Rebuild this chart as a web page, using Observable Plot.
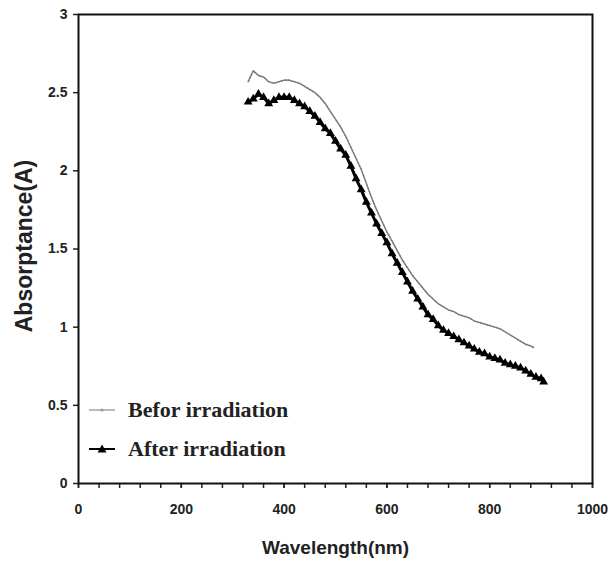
<!DOCTYPE html>
<html>
<head>
<meta charset="utf-8">
<script src="https://cdn.jsdelivr.net/npm/d3@7"></script>
<script src="https://cdn.jsdelivr.net/npm/@observablehq/plot@0.6"></script>
<style>
  html, body { margin: 0; padding: 0; background: #fff; }
  #wrap { position: relative; width: 610px; height: 572px; }
  #legend { position: absolute; left: 88px; top: 390px; font-family: "Liberation Serif", "Times New Roman", serif; font-weight: bold; font-size: 22px; color: #222; }
  #legend .row { display: flex; align-items: center; height: 39px; }
  #legend svg { margin-right: 12px; }
</style>
</head>
<body>
<div id="wrap"></div>
<script>
// Data
const seriesNames = ["Befor irradiation", "After irradiation"];

const beforeWavelength = [330,340,350,360,370,380,390,400,410,420,430,440,450,460,470,480,490,500,510,520,530,540,550,560,570,580,590,600,610,620,630,640,650,660,670,680,690,700,710,720,730,740,750,760,770,780,790,800,810,820,830,840,850,860,870,880,885];
const beforeAbs = [2.57,2.64,2.61,2.60,2.57,2.56,2.57,2.58,2.58,2.57,2.56,2.54,2.52,2.50,2.47,2.43,2.38,2.33,2.28,2.22,2.15,2.08,2.01,1.92,1.83,1.75,1.68,1.61,1.55,1.49,1.43,1.38,1.33,1.29,1.25,1.21,1.18,1.15,1.13,1.11,1.10,1.08,1.07,1.06,1.04,1.03,1.02,1.01,1.00,0.99,0.97,0.95,0.93,0.91,0.89,0.88,0.87];

const afterWavelength = [330,340,350,360,370,380,390,400,410,420,430,440,450,460,470,480,490,500,510,520,530,540,550,560,570,580,590,600,610,620,630,640,650,660,670,680,690,700,710,720,730,740,750,760,770,780,790,800,810,820,830,840,850,860,870,880,890,900,905];
const afterAbs = [2.44,2.46,2.49,2.47,2.43,2.45,2.47,2.47,2.47,2.45,2.43,2.41,2.38,2.35,2.31,2.27,2.24,2.19,2.14,2.10,2.03,1.95,1.88,1.80,1.73,1.66,1.60,1.54,1.47,1.41,1.35,1.29,1.23,1.18,1.13,1.08,1.05,1.01,0.98,0.96,0.94,0.92,0.90,0.88,0.86,0.84,0.83,0.81,0.80,0.79,0.77,0.76,0.75,0.74,0.72,0.70,0.68,0.67,0.65];

const xTicks = [0,200,400,600,800,1000];
const xTickLabels = ["0","200","400","600","800","1000"];
const xMinorTicks = d3.range(0, 1001, 40);
const yTicks = [0,0.5,1,1.5,2,2.5,3];
const yTickLabels = ["0","0.5","1","1.5","2","2.5","3"];
const xTitle = "Wavelength(nm)";
const yTitle = "Absorptance(A)";

const before = beforeWavelength.map((w, i) => ({w, a: beforeAbs[i]}));
const after = afterWavelength.map((w, i) => ({w, a: afterAbs[i]}));

const sans = "Liberation Sans, Arial, sans-serif";
const tickFont = {fontSize: 14, fontWeight: "bold", fontFamily: sans};

const chart = Plot.plot({
  width: 610,
  height: 572,
  marginLeft: 78,
  marginRight: 18,
  marginTop: 14,
  marginBottom: 89,
  style: {background: "#fff", color: "#222", fontFamily: sans},
  x: {domain: [0, 1000]},
  y: {domain: [0, 3]},
  marks: [
    Plot.axisX({ticks: xMinorTicks, tickSize: 5, text: null, label: null, stroke: "#222", strokeWidth: 1.5}),
    Plot.axisX({ticks: xTicks, tickSize: 5, tickPadding: 16, tickFormat: (d) => xTickLabels[xTicks.indexOf(d)], label: null, stroke: "#222", strokeWidth: 1.5, ...tickFont}),
    Plot.axisY({ticks: yTicks, tickSize: 5, tickPadding: 6, tickFormat: (d) => yTickLabels[yTicks.indexOf(d)], label: null, stroke: "#222", strokeWidth: 1.5, ...tickFont}),
    Plot.frame({stroke: "#111", strokeWidth: 2}),
    Plot.line(before, {x: "w", y: "a", stroke: "#777", strokeWidth: 1.6, strokeDasharray: "2,1.4"}),
    Plot.line(after, {x: "w", y: "a", stroke: "#000", strokeWidth: 3}),
    Plot.dot(after, {x: "w", y: "a", symbol: "triangle", r: 3.3, fill: "#000", stroke: "none"}),
    Plot.text([yTitle], {frameAnchor: "left", text: (d) => d, rotate: -90, dx: -54, dy: -3, textAnchor: "middle", lineAnchor: "middle", fontSize: 23, fontWeight: "bold", fill: "#222", fontFamily: sans}),
    Plot.text([xTitle], {frameAnchor: "bottom", text: (d) => d, dy: 64, textAnchor: "middle", lineAnchor: "middle", fontSize: 19, fontWeight: "bold", fill: "#222", fontFamily: sans})
  ]
});

const wrap = document.getElementById("wrap");
wrap.appendChild(chart);

// Legend overlay
const legend = document.createElement("div");
legend.id = "legend";
legend.innerHTML = `
  <div class="row"><svg width="28" height="12"><line x1="1" y1="6" x2="27" y2="6" stroke="#aaa" stroke-width="1.6"/><circle cx="14" cy="6" r="1.6" fill="#999"/></svg><span>${seriesNames[0]}</span></div>
  <div class="row"><svg width="28" height="12"><line x1="1" y1="6" x2="27" y2="6" stroke="#000" stroke-width="2"/><path d="M14,1.5 L18.5,9.5 L9.5,9.5 Z" fill="#000"/></svg><span>${seriesNames[1]}</span></div>`;
wrap.appendChild(legend);
</script>
</body>
</html>
